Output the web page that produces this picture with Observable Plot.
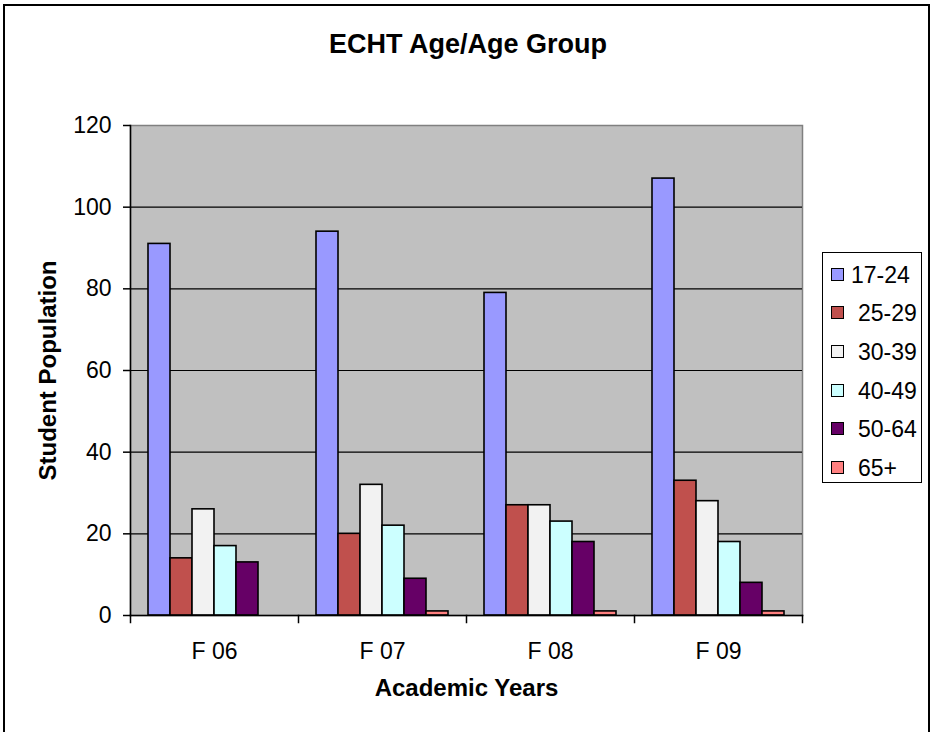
<!DOCTYPE html>
<html>
<head>
<meta charset="utf-8">
<script src="https://cdn.jsdelivr.net/npm/d3@7"></script>
<script src="https://cdn.jsdelivr.net/npm/@observablehq/plot@0.6"></script>
<style>
  html, body { margin: 0; padding: 0; background: #fff; }
  body { font-family: "Liberation Sans", Arial, sans-serif; }
  #wrap { position: relative; width: 932px; height: 732px; overflow: hidden; }
  #border { position: absolute; left: 3px; top: 4px; width: 927px; height: 760px; border: 2px solid #000; box-sizing: border-box; }
  #title { position: absolute; left: 0; top: 31px; width: 936px; text-align: center; font-size: 27px; line-height: 27px; font-weight: bold; color: #000; }
  #chart { position: absolute; left: 0; top: 0; }
  #legend { position: absolute; left: 822px; top: 252px; width: 100px; height: 231px; border: 1.5px solid #000; box-sizing: border-box; background: #fff; }
  .item { position: absolute; left: 8px; height: 24px; font-size: 23px; line-height: 24px; color: #000; white-space: nowrap; }
  .sw { display: inline-block; width: 11px; height: 11px; border: 1.5px solid #000; vertical-align: middle; margin-right: 7px; position: relative; top: -2px; }
</style>
</head>
<body>
<div id="wrap">
  <div id="border"></div>
  <div id="chart"></div>
  <div id="title">ECHT Age/Age Group</div>
  <div id="legend"></div>
</div>
<script>
// ---- data ----
const years = ["F 06", "F 07", "F 08", "F 09"];
const ageGroups = ["17-24", "25-29", "30-39", "40-49", "50-64", "65+"];
const age17_24 = [91, 94, 79, 107];
const age25_29 = [14, 20, 27, 33];
const age30_39 = [26, 32, 27, 28];
const age40_49 = [17, 22, 23, 18];
const age50_64 = [13, 9, 18, 8];
const age65plus = [0, 1, 1, 1];
const yTicks = [0, 20, 40, 60, 80, 100, 120];
const colors = ["#9999FF", "#C0504D", "#F2F2F2", "#CCFFFF", "#660066", "#FF8080"];

const series = [age17_24, age25_29, age30_39, age40_49, age50_64, age65plus];
const data = [];
years.forEach((yr, i) => ageGroups.forEach((a, j) => data.push({year: yr, age: a, value: series[j][i]})));

const font = "'Liberation Sans', Arial, sans-serif";

const chart = Plot.plot({
  width: 932,
  height: 732,
  marginLeft: 128,
  marginRight: 129,
  marginTop: 125,
  marginBottom: 117,
  style: {fontFamily: font, fontSize: "23px", background: "transparent", color: "#000"},
  fx: {domain: years, padding: 0},
  x: {domain: ageGroups, paddingInner: 0, paddingOuter: 0.77, axis: null},
  y: {domain: [0, 120]},
  color: {domain: ageGroups, range: colors},
  marks: [
    Plot.frame({facet: "super", fill: "#C0C0C0", stroke: "#808080", strokeWidth: 1.5}),
    Plot.ruleY(yTicks.filter(t => t > 0 && t < 120), {stroke: "#000", strokeWidth: 1.2}),
    Plot.barY(data, {fx: "year", x: "age", y: "value", fill: "age", stroke: "#000", strokeWidth: 1.6}),
    Plot.frame({facet: "super", anchor: "left", stroke: "#000", strokeWidth: 1.5}),
    Plot.frame({facet: "super", anchor: "bottom", stroke: "#000", strokeWidth: 1.5}),
    // category boundary ticks
    Plot.frame({anchor: "left", insetTop: 490, insetBottom: -7, stroke: "#000", strokeWidth: 1.5}),
    Plot.frame({facet: "super", anchor: "right", insetTop: 490, insetBottom: -7, stroke: "#000", strokeWidth: 1.5}),
    Plot.axisY({ticks: yTicks, tickSize: 7, tickPadding: 12, label: null, fontSize: 23, strokeWidth: 1.5}),
    Plot.axisFx({anchor: "bottom", tickSize: 0, tickPadding: 27, label: null, fontSize: 23}),
    Plot.text(["Student Population"], {facet: "super", frameAnchor: "left", rotate: -90, dx: -82, fontSize: 24, fontWeight: "bold", textAnchor: "middle"}),
    Plot.text(["Academic Years"], {facet: "super", frameAnchor: "bottom", dy: 80, fontSize: 24, fontWeight: "bold", textAnchor: "middle"})
  ]
});
document.getElementById("chart").appendChild(chart);

// ---- legend ----
const legend = document.getElementById("legend");
const rowCenters = [22, 60, 99, 138, 176, 215];
ageGroups.forEach((a, j) => {
  const it = document.createElement("div");
  it.className = "item";
  it.style.top = (rowCenters[j] - 12) + "px";
  const sw = document.createElement("span");
  sw.className = "sw";
  sw.style.background = colors[j];
  if (j > 0) sw.style.marginRight = "14px";
  it.appendChild(sw);
  it.appendChild(document.createTextNode(a));
  legend.appendChild(it);
});
</script>
</body>
</html>
